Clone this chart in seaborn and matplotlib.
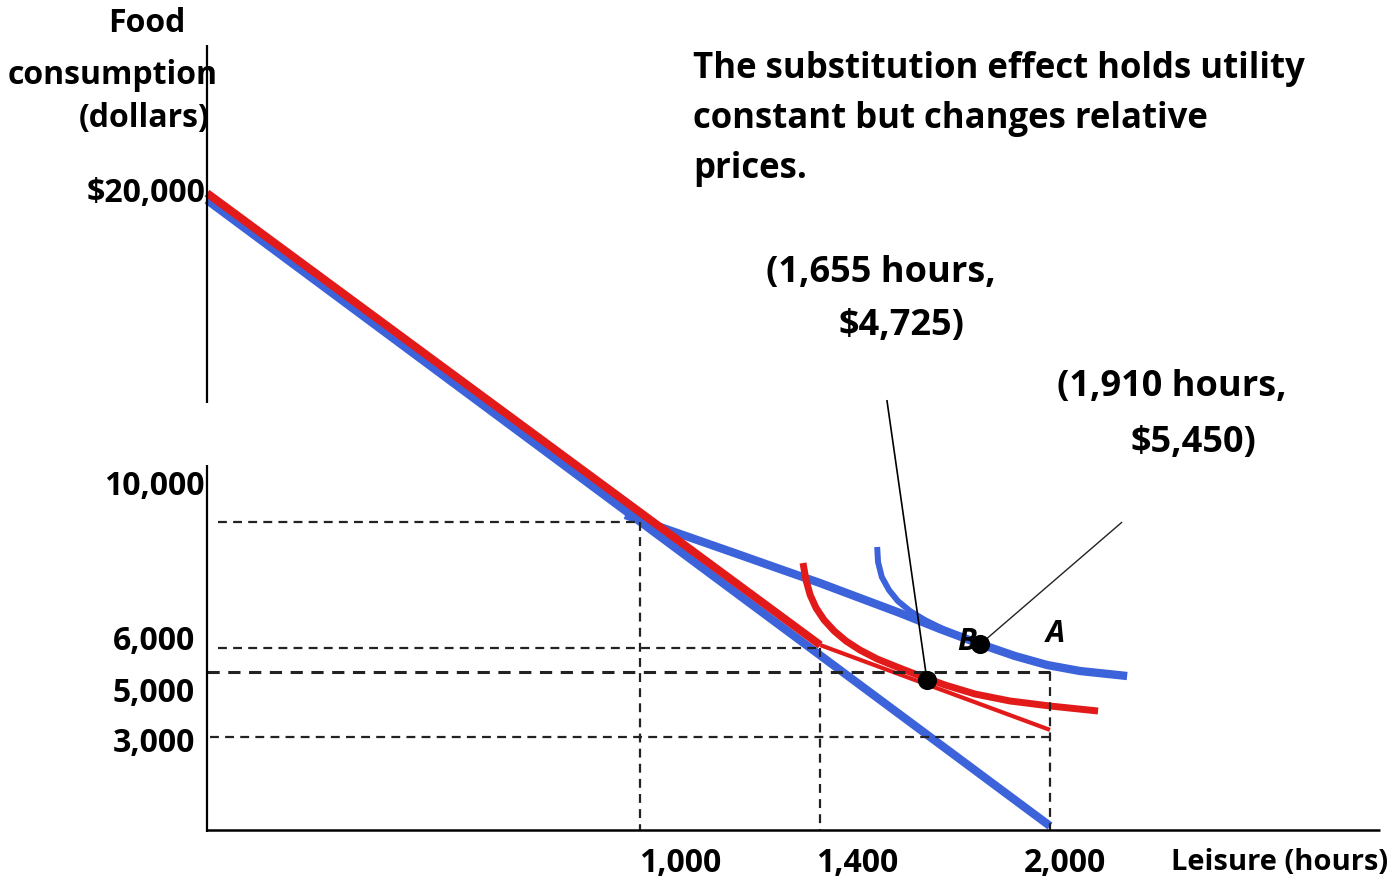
import matplotlib
matplotlib.use("Agg")
import matplotlib.pyplot as plt
import seaborn as sns

# ---------------- data (hours of leisure, dollars of food) ----------------
blue_budget_x = [0, 2000]
blue_budget_y = [20000, 0]

red_budget_x = [0, 1455]
red_budget_y = [20220, 5780]
red_kink_x = [1455, 2000]
red_kink_y = [5780, 3070]

blue_ic_x = [992, 1075, 1170, 1265, 1359, 1454, 1549, 1644, 1739, 1834, 1917, 1993, 2071, 2183]
blue_ic_y = [9936, 9553, 9105, 8658, 8211, 7764, 7284, 6805, 6294, 5815, 5431, 5144, 4952, 4792]

blue_ic2_x = [1590, 1592, 1601, 1618, 1639, 1668, 1703, 1751, 1798]
blue_ic2_y = [8914, 8435, 7955, 7540, 7188, 6869, 6581, 6262, 6006]

red_ic_x = [1414, 1421, 1431, 1445, 1464, 1488, 1516, 1549, 1590, 1637, 1692, 1751, 1822, 1905, 2000, 2114]
red_ic_y = [8403, 7859, 7380, 6965, 6582, 6230, 5911, 5623, 5336, 5080, 4792, 4505, 4217, 3994, 3834, 3674]

dot_x = [1708, 1834]
dot_y = [4670, 5800]

leader1_x = [1613, 1708]
leader1_y = [13610, 4670]
leader2_x = [1834, 2171]
leader2_y = [5800, 9710]

# guide lines (dashed)
h_guides = [(26, 1027, 9710), (26, 1455, 5690), (0, 2000, 4920), (7, 2000, 2840)]
v_guides = [(1027, 9710), (1455, 5690), (2000, 4920)]

y_tick_labels = ["$20,000", "10,000", "6,000", "5,000", "3,000"]
x_tick_labels = ["1,000", "1,400", "2,000"]

BLUE = "#3D63DB"
RED = "#E21A1A"

# ---------------- figure ----------------
sns.set_theme(style="white")
plt.rcParams["font.family"] = ["Open Sans", "DejaVu Sans"]

W, H = 1393, 881
fig = plt.figure(figsize=(W / 100, H / 100), dpi=100)
ax = fig.add_axes([0, 0, 1, 1])

sx = 0.4215   # px per hour
sy = 0.0313   # px per dollar
ax.set_xlim(-207 / sx, (W - 207) / sx)
ax.set_ylim((826 - H) / sy, 826 / sy)
ax.axis("off")


def line(x, y, color, lw, z, cap="butt", **kw):
    sns.lineplot(x=x, y=y, ax=ax, color=color, linewidth=lw, sort=False,
                 estimator=None, zorder=z, solid_capstyle=cap,
                 solid_joinstyle="round", **kw)


# axes (broken y-axis)
axis_bottom = -130
line([0, 0], [24950, 13510], "black", 1.6, 5)
line([0, 0], [11530, axis_bottom - 60], "black", 1.6, 5)
line([0, (1380 - 207) / sx], [axis_bottom, axis_bottom], "black", 1.8, 5)

# curves
line(blue_budget_x, blue_budget_y, BLUE, 6.0, 2)
line(red_budget_x, red_budget_y, RED, 5.8, 3)
line(red_kink_x, red_kink_y, RED, 3.0, 3)
line(blue_ic_x, blue_ic_y, BLUE, 6.0, 2)
line(blue_ic2_x, blue_ic2_y, BLUE, 4.3, 2)
line(red_ic_x, red_ic_y, RED, 5.0, 3)

# dashed guides
dash = (0, (4.0, 2.8))
for x0, x1, yv in h_guides:
    lw = 2.2 if yv == 4920 else 1.6
    line([x0, x1], [yv, yv], "#222222", lw, 4, linestyle=dash)
for xv, yv in v_guides:
    line([xv, xv], [yv, axis_bottom], "#222222", 1.6, 4, linestyle=dash)

# leader lines
line(leader1_x, leader1_y, "black", 1.2, 6)
line(leader2_x, leader2_y, "#222222", 1.0, 6)

# dots
sns.scatterplot(x=dot_x, y=dot_y, ax=ax, color="black", s=190, zorder=7,
                edgecolor="black", linewidth=0)


def ptext(x, y, s, ha="left", size=24, style="normal", weight="bold"):
    fig.text(x / W, 1 - y / H, s, ha=ha, va="center", fontsize=size,
             fontweight=weight, fontstyle=style, color="black")


# y-axis title
ptext(147, 23, "Food", ha="center", size=23)
ptext(113, 76, "consumption", ha="center", size=23)
ptext(144, 119, "(dollars)", ha="center", size=23)

# y tick labels
ytl_pos = [(205, 194), (205, 486), (195, 641), (195, 694), (195, 743)]
for (px, py), s in zip(ytl_pos, y_tick_labels):
    ptext(px, py, s, ha="right", size=23)

# x tick labels
xtl_pos = [680, 857, 1065]
for px, s in zip(xtl_pos, x_tick_labels):
    ptext(px, 863, s, ha="center", size=23)
ptext(1388, 863, "Leisure (hours)", ha="right", size=21)

# title text
ptext(693, 69, "The substitution effect holds utility", size=25)
ptext(693, 119, "constant but changes relative", size=25)
ptext(693, 169, "prices.", size=25)

# point annotations
ptext(766, 273, "(1,655 hours,", size=26)
ptext(838, 326, "$4,725)", size=26)
ptext(1057, 387, "(1,910 hours,", size=26)
ptext(1130, 443, "$5,450)", size=26)

ptext(967, 642, "B", ha="center", size=22, style="italic")
ptext(1055, 634, "A", ha="center", size=22, style="italic")

fig.savefig("out.png", dpi=100, facecolor="white")
